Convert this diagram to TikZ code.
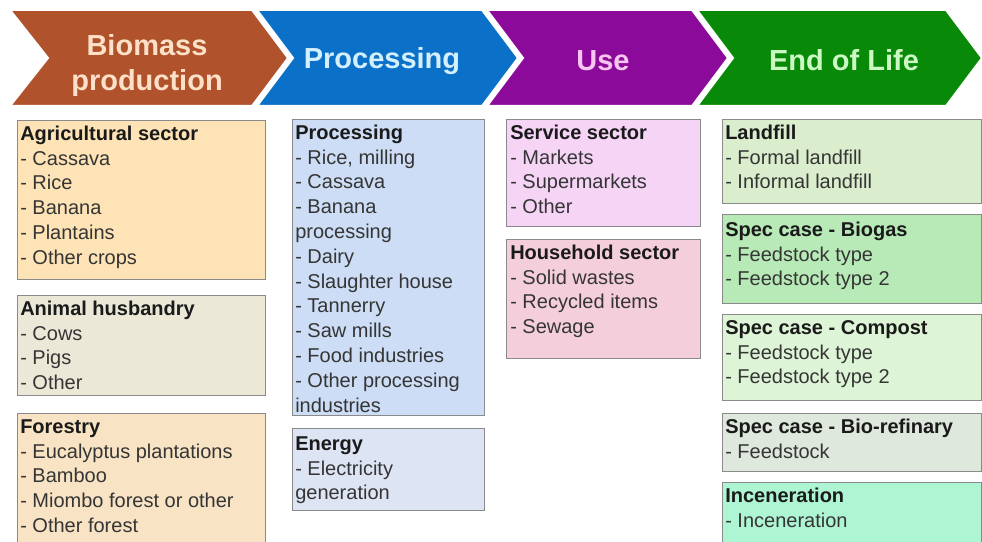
\documentclass[tikz,border=0pt]{standalone}
\usepackage{fontspec}
\setmainfont{Liberation Sans}
\definecolor{brownC}{HTML}{B0522C}
\definecolor{blueC}{HTML}{0B70C8}
\definecolor{purpleC}{HTML}{8C0A9A}
\definecolor{greenC}{HTML}{088A08}
\definecolor{bioT}{HTML}{FDE0C8}
\definecolor{procT}{HTML}{D4F0FF}
\definecolor{useT}{HTML}{F8C4F0}
\definecolor{eolT}{HTML}{CCF8C4}
\definecolor{agriC}{HTML}{FDE3B6}
\definecolor{animC}{HTML}{ECE8D8}
\definecolor{forC}{HTML}{F8E4C4}
\definecolor{procC}{HTML}{CCDDF5}
\definecolor{enC}{HTML}{DDE4F3}
\definecolor{servC}{HTML}{F6D4F6}
\definecolor{housC}{HTML}{F5CEDC}
\definecolor{landC}{HTML}{DAEDCD}
\definecolor{biogC}{HTML}{B8EAB8}
\definecolor{compC}{HTML}{DEF4D6}
\definecolor{refC}{HTML}{DEE8DC}
\definecolor{incC}{HTML}{AEF5D4}
\definecolor{lineC}{HTML}{8A8A8A}
\definecolor{itemC}{HTML}{353535}
\definecolor{ttlC}{HTML}{1A1A1A}
\newcommand\hd[1]{\rule{0pt}{11.25pt}\textbf{\color{ttlC}#1}}
\begin{document}
\begin{tikzpicture}[x=0.75pt,y=-0.75pt,
  box/.style={draw=lineC, line width=1.1pt, anchor=north west, inner sep=0},
  item/.style={anchor=north west, inner sep=0, align=left, text=itemC,
    font=\fontsize{15pt}{18.6pt}\selectfont},
  chevtxt/.style={inner sep=0, align=center,
    font=\fontsize{21.75pt}{26.25pt}\selectfont\bfseries},
  chev/.style={draw=white, line width=1.5pt}]
\useasboundingbox (0,0) rectangle (982,542);
\clip (0,0) rectangle (982,542);
\fill[white] (0,0) rectangle (982,542);
% chevrons
\filldraw[chev, fill=brownC] (10,10) -- (252,10) -- (288,58) -- (252,106) -- (10,106) -- (48,58) -- cycle;
\filldraw[chev, fill=blueC] (257,10) -- (482,10) -- (518,58) -- (482,106) -- (257,106) -- (293,58) -- cycle;
\filldraw[chev, fill=purpleC] (487,10) -- (692,10) -- (728,58) -- (692,106) -- (487,106) -- (523,58) -- cycle;
\filldraw[chev, fill=greenC] (697,10) -- (946,10) -- (982,58) -- (946,106) -- (697,106) -- (733,58) -- cycle;
\node[chevtxt, text=bioT, anchor=north] (bioH) at (147,33) {\rule{0pt}{16.5pt}Biomass\\production};
\node[chevtxt, text=procT, anchor=base] (procH) at (382,69) {Processing};
\node[chevtxt, text=useT, anchor=base] (useH) at (603,70) {Use};
\node[chevtxt, text=eolT, anchor=base] (eolH) at (844,70) {End of Life};
% column 1
\node[box, fill=agriC, minimum width={248*0.75pt}, minimum height={159*0.75pt}] (agri) at (17,120) {};
\node[item] (agriT) at (20,125) {\hd{Agricultural sector}\\- Cassava\\- Rice\\- Banana\\- Plantains\\- Other crops};
\node[box, fill=animC, minimum width={248*0.75pt}, minimum height={100*0.75pt}] (anim) at (17,295) {};
\node[item] (animT) at (20,300) {\hd{Animal husbandry}\\- Cows\\- Pigs\\- Other};
\node[box, fill=forC, minimum width={248*0.75pt}, minimum height={140*0.75pt}] (fore) at (17,413) {};
\node[item] (foreT) at (20,418) {\hd{Forestry}\\- Eucalyptus plantations\\- Bamboo\\- Miombo forest or other\\- Other forest};
% column 2
\node[box, fill=procC, minimum width={192*0.75pt}, minimum height={296*0.75pt}] (proc) at (292,119) {};
\node[item] (procT) at (295,124) {\hd{Processing}\\- Rice, milling\\- Cassava\\- Banana\\processing\\- Dairy\\- Slaughter house\\- Tannerry\\- Saw mills\\- Food industries\\- Other processing\\industries};
\node[box, fill=enC, minimum width={192*0.75pt}, minimum height={82*0.75pt}] (ener) at (292,428) {};
\node[item] (enerT) at (295,435) {\hd{Energy}\\- Electricity\\generation};
% column 3
\node[box, fill=servC, minimum width={194*0.75pt}, minimum height={107*0.75pt}] (serv) at (506,119) {};
\node[item] (servT) at (510,124) {\hd{Service sector}\\- Markets\\- Supermarkets\\- Other};
\node[box, fill=housC, minimum width={194*0.75pt}, minimum height={119*0.75pt}] (hous) at (506,239) {};
\node[item] (housT) at (510,244) {\hd{Household sector}\\- Solid wastes\\- Recycled items\\- Sewage};
% column 4
\node[box, fill=landC, minimum width={259*0.75pt}, minimum height={84*0.75pt}] (land) at (722,119) {};
\node[item] (landT) at (725,124) {\hd{Landfill}\\- Formal landfill\\- Informal landfill};
\node[box, fill=biogC, minimum width={259*0.75pt}, minimum height={89*0.75pt}] (biog) at (722,214) {};
\node[item] (biogT) at (725,221) {\hd{Spec case - Biogas}\\- Feedstock type\\- Feedstock type 2};
\node[box, fill=compC, minimum width={259*0.75pt}, minimum height={86*0.75pt}] (comp) at (722,314) {};
\node[item] (compT) at (725,319) {\hd{Spec case - Compost}\\- Feedstock type\\- Feedstock type 2};
\node[box, fill=refC, minimum width={259*0.75pt}, minimum height={58*0.75pt}] (refi) at (722,413) {};
\node[item] (refiT) at (725,418) {\hd{Spec case - Bio-refinary}\\- Feedstock};
\node[box, fill=incC, minimum width={259*0.75pt}, minimum height={72*0.75pt}] (ince) at (722,482) {};
\node[item] (inceT) at (725,487) {\hd{Inceneration}\\- Inceneration};
\end{tikzpicture}
\end{document}
